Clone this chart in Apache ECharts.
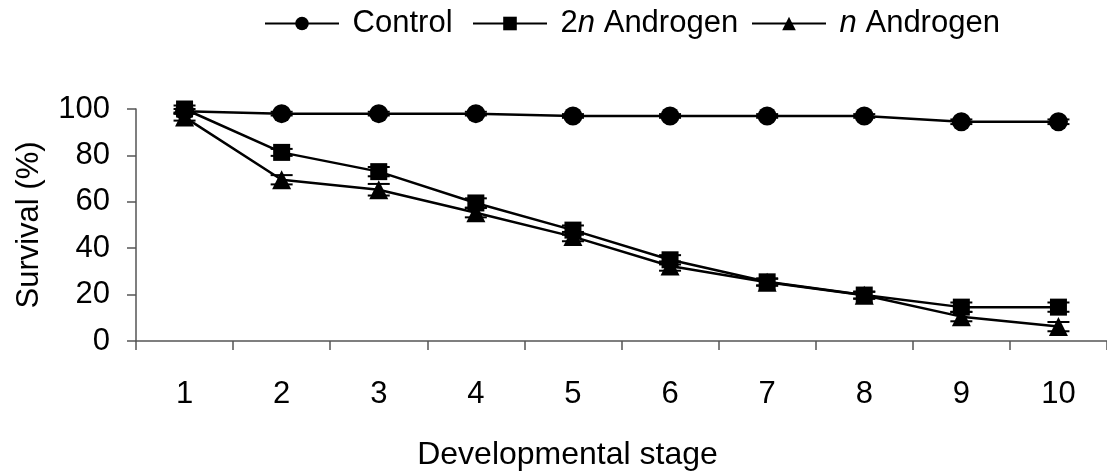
<!DOCTYPE html>
<html>
<head>
<meta charset="utf-8">
<script src="https://cdn.jsdelivr.net/npm/echarts@6/dist/echarts.min.js"></script>
<style>html,body{margin:0;padding:0;background:#fff}#c{width:1107px;height:472px}</style>
</head>
<body>
<div id="c"></div>
<script>
const categories = ['1','2','3','4','5','6','7','8','9','10'];
const seriesNames = ['Control', '2n Androgen', 'n Androgen'];
const controlVals = [99, 98, 98, 98, 97, 97, 97, 97, 94.5, 94.5];
const controlErr  = [1, 0.8, 0.8, 0.8, 0.8, 0.8, 0.8, 0.8, 1, 1];
const twoNVals = [100, 81.3, 73, 59.5, 47.8, 35, 25.5, 19.8, 14.6, 14.6];
const twoNErr  = [1.5, 1.5, 2, 2, 2, 2, 1.5, 1.5, 2, 2];
const nVals = [96.5, 69.5, 65.2, 55.3, 45, 32.3, 25.3, 19.7, 10.5, 6.2];
const nErr  = [1.5, 2, 2.5, 2, 2, 2, 1.5, 1.5, 2, 2];
const yTicks = [0, 20, 40, 60, 80, 100];

const FONT = '"Liberation Sans", Arial, sans-serif';
const FS = 31;
const chart = echarts.init(document.getElementById('c'), null, {renderer: 'canvas'});

function errSeries(vals, errs) {
  return {
    type: 'custom',
    silent: true,
    z: 1,
    data: vals.map((v, i) => [i, v, errs[i]]),
    renderItem: function (params, api) {
      const x = api.value(0), v = api.value(1), e = api.value(2);
      const hi = api.coord([x, v + e]);
      const lo = api.coord([x, v - e]);
      const w = 11;
      const st = {stroke: '#000', lineWidth: 2};
      return {
        type: 'group',
        children: [
          {type: 'line', shape: {x1: hi[0], y1: hi[1], x2: lo[0], y2: lo[1]}, style: st},
          {type: 'line', shape: {x1: hi[0] - w, y1: hi[1], x2: hi[0] + w, y2: hi[1]}, style: st},
          {type: 'line', shape: {x1: lo[0] - w, y1: lo[1], x2: lo[0] + w, y2: lo[1]}, style: st}
        ]
      };
    }
  };
}

function lineSeries(name, vals, symbol, size) {
  return {
    name: name,
    type: 'line',
    data: vals,
    symbol: symbol,
    symbolSize: size,
    showAllSymbol: true,
    z: 3,
    lineStyle: {color: '#000', width: 2.5},
    itemStyle: {color: '#000', borderColor: '#000', borderWidth: 0},
    emphasis: {disabled: true}
  };
}

function legendAt(name, left) {
  return {
    top: 3,
    left: left,
    itemWidth: 74,
    itemHeight: 17,
    selectedMode: false,
    textStyle: {
      fontFamily: FONT, fontSize: FS, color: '#000',
      rich: {
        t: {fontFamily: FONT, fontSize: FS, color: '#000'},
        i: {fontFamily: FONT, fontSize: FS, color: '#000', fontStyle: 'italic'}
      }
    },
    formatter: function (nm) {
      if (nm === '2n Androgen') return '{t| 2}{i|n}{t| Androgen}';
      if (nm === 'n Androgen') return '{t| }{i|n}{t| Androgen}';
      return '{t| ' + nm + '}';
    },
    data: [name]
  };
}

chart.setOption({
  animation: false,
  backgroundColor: '#fff',
  textStyle: {fontFamily: FONT},
  legend: [
    legendAt(seriesNames[0], 259),
    legendAt(seriesNames[1], 467),
    legendAt(seriesNames[2], 746)
  ],
  grid: {left: 136, right: -7, top: 109, bottom: 129, containLabel: false},
  xAxis: {
    type: 'category',
    data: categories,
    boundaryGap: true,
    name: 'Developmental stage',
    nameLocation: 'middle',
    nameGap: 98,
    nameTextStyle: {fontFamily: FONT, fontSize: 32, color: '#000', padding: [0, 108, 0, 0]},
    axisLine: {lineStyle: {color: '#555', width: 1.5}},
    axisTick: {show: true, length: 9, inside: false, alignWithLabel: false, lineStyle: {color: '#555', width: 1.5}},
    axisLabel: {fontFamily: FONT, fontSize: FS, color: '#000', margin: 38},
    splitLine: {show: false}
  },
  yAxis: {
    type: 'value',
    min: 0,
    max: 100,
    interval: 20,
    name: 'Survival (%)',
    nameLocation: 'middle',
    nameGap: 91,
    nameRotate: 90,
    nameTextStyle: {fontFamily: FONT, fontSize: FS, color: '#000'},
    axisLine: {show: true, lineStyle: {color: '#555', width: 1.5}},
    axisTick: {show: true, length: 9, lineStyle: {color: '#555', width: 1.5}},
    axisLabel: {fontFamily: FONT, fontSize: FS, color: '#000', margin: 26, padding: [8, 0, 0, 0],
      formatter: function (v) { return yTicks.indexOf(v) >= 0 ? String(v) : ''; }},
    splitLine: {show: false}
  },
  series: [
    lineSeries(seriesNames[0], controlVals, 'circle', 19),
    lineSeries(seriesNames[1], twoNVals, 'rect', 17),
    lineSeries(seriesNames[2], nVals, 'triangle', 19),
    errSeries(controlVals, controlErr),
    errSeries(twoNVals, twoNErr),
    errSeries(nVals, nErr)
  ]
});
</script>
</body>
</html>
